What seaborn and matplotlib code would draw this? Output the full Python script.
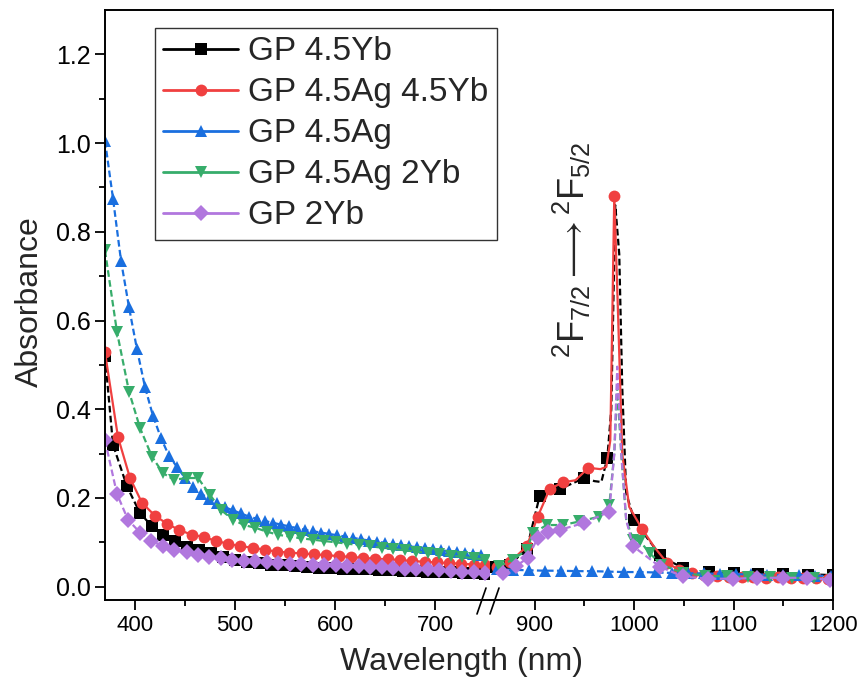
import matplotlib
matplotlib.use('Agg')
import matplotlib.pyplot as plt
import numpy as np
import pandas as pd
import seaborn as sns
from matplotlib.colors import to_hex
from matplotlib.lines import Line2D

##### data #####
labels = ['GP 4.5Yb', 'GP 4.5Ag 4.5Yb', 'GP 4.5Ag', 'GP 4.5Ag 2Yb', 'GP 2Yb']
colors = ['#000000', '#f04040', '#1a6fdf', '#37ad6b', '#b177de']
marker_list = ['s', 'o', '^', 'v', 'D']

# GP 4.5Yb
yb45_x = [370, 378, 392, 405, 417, 428, 440, 452, 464, 476, 488, 500, 512, 524, 536, 548, 560, 572,
          584, 596, 608, 620, 632, 644, 656, 668, 680, 692, 704, 716, 728, 740, 750,
          860, 875, 892, 905, 915, 925, 940, 950, 960, 967, 973, 977, 981, 985, 988, 992, 1000,
          1013, 1026, 1038, 1049, 1062, 1075, 1088, 1100, 1113, 1125, 1138, 1150, 1163, 1175, 1188, 1200]
yb45_y = [0.52, 0.32, 0.226, 0.166, 0.136, 0.117, 0.102, 0.09, 0.082, 0.075, 0.066, 0.060, 0.056, 0.053,
          0.050, 0.048, 0.046, 0.045, 0.043, 0.042, 0.041, 0.040, 0.039, 0.038, 0.037, 0.036, 0.035,
          0.034, 0.033, 0.032, 0.031, 0.030, 0.029,
          0.045, 0.05, 0.085, 0.205, 0.215, 0.22, 0.235, 0.245, 0.238, 0.236, 0.29, 0.40, 0.86, 0.75,
          0.45, 0.21, 0.151, 0.11, 0.072, 0.055, 0.043, 0.035, 0.032, 0.031, 0.030, 0.030, 0.029,
          0.029, 0.028, 0.028, 0.027, 0.027, 0.026]
yb45_no_marker = [915, 940, 960, 967, 977, 981, 985, 988, 992, 1013, 1038, 1062, 1088, 1113, 1138,
                  1163, 1188]

# GP 4.5Ag 4.5Yb
ag45yb45_x = [370, 383, 395, 407, 420, 432, 444, 457, 469, 481, 493, 505, 518, 530, 542, 554, 567, 579,
              591, 604, 616, 628, 640, 653, 665, 677, 690, 702, 714, 726, 739, 750,
              862, 875, 892, 903, 915, 928, 941, 954, 966, 972, 976, 980, 984, 988, 995, 1008, 1020,
              1033, 1045, 1058, 1070, 1083, 1095, 1108, 1120, 1133, 1145, 1158, 1170, 1183, 1195]
ag45yb45_y = [0.528, 0.337, 0.245, 0.189, 0.16, 0.142, 0.128, 0.117, 0.112, 0.103, 0.097, 0.091, 0.088,
              0.083, 0.079, 0.077, 0.075, 0.073, 0.071, 0.069, 0.067, 0.065, 0.063, 0.062, 0.060, 0.058,
              0.056, 0.055, 0.053, 0.052, 0.050, 0.049,
              0.045, 0.055, 0.091, 0.158, 0.22, 0.235, 0.24, 0.268, 0.265, 0.27, 0.33, 0.88, 0.60, 0.30,
              0.18, 0.13, 0.09, 0.054, 0.038, 0.030, 0.026, 0.024, 0.022, 0.021, 0.022, 0.020, 0.021,
              0.020, 0.020, 0.019, 0.018]
ag45yb45_no_marker = [941, 966, 972, 976, 984, 988, 995, 1020]

# GP 4.5Ag
ag45_x = [370, 378, 386, 394, 402, 410, 418, 426, 434, 442, 450, 458, 466, 474, 482, 490, 498, 506,
          514, 522, 530, 538, 546, 554, 562, 570, 578, 586, 594, 602, 610, 618, 626, 634, 642, 650,
          658, 666, 674, 682, 690, 698, 706, 714, 722, 730, 738, 746,
          862, 878, 894, 910, 926, 942, 958, 974, 990, 1006, 1022, 1038, 1054, 1070, 1086, 1102,
          1118, 1134, 1150, 1166, 1182, 1198]
ag45_y = [1.005, 0.875, 0.735, 0.63, 0.535, 0.45, 0.385, 0.335, 0.295, 0.27, 0.245, 0.225, 0.21, 0.198,
          0.188, 0.179, 0.172, 0.165, 0.158, 0.153, 0.148, 0.144, 0.14, 0.136, 0.132, 0.128, 0.125,
          0.122, 0.119, 0.116, 0.113, 0.11, 0.107, 0.104, 0.101, 0.099, 0.096, 0.094, 0.091, 0.089,
          0.087, 0.085, 0.082, 0.08, 0.078, 0.076, 0.074, 0.072,
          0.040, 0.038, 0.037, 0.036, 0.036, 0.035, 0.035, 0.034, 0.033, 0.033, 0.032, 0.031, 0.030,
          0.030, 0.029, 0.028, 0.028, 0.027, 0.026, 0.026, 0.025, 0.024]
ag45_no_marker = []

# GP 4.5Ag 2Yb
ag45yb2_x = [370, 382, 394, 405, 417, 428, 439, 452, 463, 475, 486, 498, 509, 520, 532, 543, 555, 566,
             578, 589, 601, 612, 624, 635, 647, 658, 670, 681, 693, 704, 716, 727, 739, 750,
             864, 878, 892, 898, 912, 928, 945, 965, 975, 980, 983, 987, 992, 999, 1006, 1016, 1027,
             1049, 1071, 1093, 1115, 1137, 1159, 1181, 1200]
ag45yb2_y = [0.758, 0.574, 0.44, 0.358, 0.293, 0.256, 0.241, 0.245, 0.245, 0.207, 0.173, 0.151, 0.139,
             0.133, 0.124, 0.117, 0.113, 0.109, 0.106, 0.103, 0.100, 0.097, 0.094, 0.091, 0.088, 0.085,
             0.082, 0.079, 0.076, 0.073, 0.070, 0.067, 0.064, 0.061,
             0.046, 0.061, 0.083, 0.12, 0.139, 0.139, 0.147, 0.158, 0.184, 0.30, 0.45, 0.30, 0.15,
             0.106, 0.102, 0.075, 0.05, 0.031, 0.025, 0.023, 0.022, 0.021, 0.020, 0.019, 0.018]
ag45yb2_no_marker = [980, 983, 987, 992]

# GP 2Yb
yb2_x = [370, 382, 393, 405, 416, 428, 439, 452, 463, 474, 486, 497, 509, 520, 532, 543, 555, 566,
         578, 589, 601, 612, 624, 635, 647, 658, 670, 681, 693, 704, 716, 727, 739, 750,
         868, 881, 893, 903, 913, 925, 950, 975, 980, 983, 987, 992, 999, 1026, 1049, 1074, 1099,
         1124, 1150, 1174, 1197]
yb2_y = [0.33, 0.209, 0.151, 0.122, 0.104, 0.091, 0.083, 0.079, 0.072, 0.068, 0.065, 0.061, 0.059,
         0.057, 0.055, 0.053, 0.052, 0.051, 0.050, 0.049, 0.048, 0.047, 0.046, 0.045, 0.044, 0.043,
         0.041, 0.040, 0.039, 0.037, 0.036, 0.034, 0.033, 0.031,
         0.031, 0.046, 0.065, 0.11, 0.124, 0.128, 0.144, 0.169, 0.30, 0.496, 0.30, 0.15, 0.091,
         0.045, 0.023, 0.018, 0.018, 0.020, 0.020, 0.020, 0.016]
yb2_no_marker = [980, 983, 987, 992]

xs_all = [yb45_x, ag45yb45_x, ag45_x, ag45yb2_x, yb2_x]
ys_all = [yb45_y, ag45yb45_y, ag45_y, ag45yb2_y, yb2_y]
no_marker_all = [yb45_no_marker, ag45yb45_no_marker, ag45_no_marker, ag45yb2_no_marker, yb2_no_marker]

frames = []
for name, xs, ys in zip(labels, xs_all, ys_all):
    assert len(xs) == len(ys), name
    frames.append(pd.DataFrame({'wavelength': xs, 'absorbance': ys, 'sample': name}))
df = pd.concat(frames, ignore_index=True)
df['segment'] = np.where(df['wavelength'] < 800, 'left', 'right')

##### styling #####
sns.set_theme(style='ticks')
plt.rcParams['font.family'] = ['Liberation Sans', 'DejaVu Sans']
plt.rcParams['mathtext.fontset'] = 'custom'
plt.rcParams['mathtext.rm'] = 'Liberation Sans'
plt.rcParams['mathtext.it'] = 'Liberation Sans'

palette = dict(zip(labels, colors))
markers = dict(zip(labels, marker_list))
dashes = {'GP 4.5Yb': (3, 1.5), 'GP 4.5Ag 4.5Yb': '', 'GP 4.5Ag': (3, 1.5),
          'GP 4.5Ag 2Yb': (3, 1.5), 'GP 2Yb': (3, 1.5)}
no_marker_by_color = dict(zip(colors, no_marker_all))

W, H = 864, 693
left_px, right_px, break_px = 105, 833, 490
top_px, bottom_px = 10, 600

fig = plt.figure(figsize=(W / 100, H / 100), dpi=100)
ax1 = fig.add_axes([left_px / W, 1 - bottom_px / H, (break_px - left_px) / W, (bottom_px - top_px) / H])
ax2 = fig.add_axes([break_px / W, 1 - bottom_px / H, (right_px - break_px) / W, (bottom_px - top_px) / H])

for ax, seg in [(ax1, 'left'), (ax2, 'right')]:
    sns.lineplot(data=df[df['segment'] == seg], x='wavelength', y='absorbance',
                 hue='sample', style='sample', hue_order=labels, style_order=labels,
                 palette=palette, markers=markers, dashes=dashes, estimator=None, sort=False,
                 lw=1.6, ms=8.5, mew=0, legend=False, ax=ax)
    # vertices drawn as line only (no marker), like the original plot
    for line in ax.lines:
        skip = no_marker_by_color.get(to_hex(line.get_color()), [])
        xd = np.asarray(line.get_xdata())
        line.set_markevery([i for i, x in enumerate(xd) if x not in skip])
    ax.set_ylim(-0.03, 1.3)
    ax.set_xlabel('')
    ax.set_ylabel('')
    for s in ax.spines.values():
        s.set_linewidth(1.4)
        s.set_color('black')
    ax.tick_params(which='major', direction='out', length=7, width=1.3, colors='black', labelsize=16)
    ax.tick_params(which='minor', direction='out', length=4, width=1.3, colors='black')

ax1.set_xlim(370, 755)
ax1.set_xticks([400, 500, 600, 700])
ax1.set_xticks([450, 550, 650], minor=True)
ax1.set_yticks(np.arange(0, 1.21, 0.2))
ax1.set_yticks(np.arange(0.1, 1.3, 0.2), minor=True)
ax1.set_yticklabels([f'{v:.1f}' for v in np.arange(0, 1.21, 0.2)])
ax1.tick_params(axis='y', labelsize=18)
ax1.spines['right'].set_visible(False)

ax2.set_xlim(855, 1200)
ax2.set_xticks([900, 1000, 1100, 1200])
ax2.set_xticks([950, 1050, 1150], minor=True)
ax2.spines['left'].set_visible(False)
ax2.tick_params(axis='y', which='both', left=False, labelleft=False)

# break marks
for x0 in (477, 490):
    fig.add_artist(Line2D([x0 / W, (x0 + 9) / W], [1 - 614 / H, 1 - 588 / H],
                          transform=fig.transFigure, color='black', lw=1.2))

# transition label
ax2.text(937, 0.76, r'$\mathregular{^2F_{7/2}}\longrightarrow\mathregular{^2F_{5/2}}$',
         rotation=90, ha='center', va='center', fontsize=26)

fig.text(462 / W, 1 - 662 / H, 'Wavelength (nm)', ha='center', va='center', fontsize=23)
fig.text(30 / W, 1 - 302 / H, 'Absorbance', ha='center', va='center', rotation=90, fontsize=23)

# legend
handles = [Line2D([0], [0], color=c, marker=m, lw=2, ms=8.5, mew=0) for c, m in zip(colors, marker_list)]
leg = fig.legend(handles, labels, loc='upper left', bbox_to_anchor=(155 / W, 1 - 28 / H),
                 frameon=True, fancybox=False, edgecolor='#333333', framealpha=1, fontsize=24,
                 handlelength=2.25, handletextpad=0.3, borderpad=0.25, labelspacing=0.3,
                 borderaxespad=0)
leg.get_frame().set_linewidth(1.0)

fig.savefig('out.png', dpi=100)
